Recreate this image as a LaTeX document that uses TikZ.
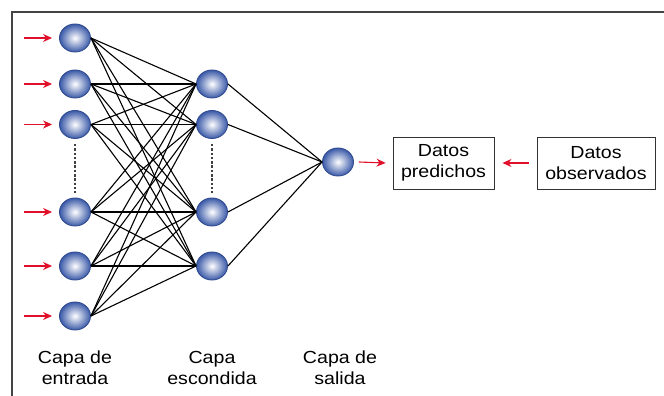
\documentclass[tikz,border=0pt]{standalone}
\usepackage{fontspec}
\setmainfont{Liberation Sans}[FakeStretch=1.12]
\usetikzlibrary{shapes.geometric,arrows.meta}
\definecolor{arrowred}{HTML}{E0102A}
\definecolor{ballblue}{HTML}{3A59A8}
\definecolor{frame}{HTML}{444444}
\begin{document}
\begin{tikzpicture}[x=1pt,y=1pt,
  neuron/.style={ellipse, minimum width=31pt, minimum height=28pt, inner sep=0pt,
    draw=ballblue!85!black, line width=0.9pt, shade, shading=radial,
    inner color=white, outer color=ballblue},
  conn/.style={black, line width=1.1pt},
  redarrow/.style={arrowred, line width=1.1pt, -{Stealth[length=9pt,width=8pt]}},
  databox/.style={draw=black!80, line width=0.9pt, align=center, inner sep=0pt,
    minimum height=52pt},
  lbl/.style={align=center, anchor=base},
  dots/.style={black!75, line width=1.4pt, dash pattern=on 2.5pt off 1.8pt},
  font=\fontsize{17.5}{21.5}\selectfont]
\useasboundingbox (0,0) rectangle (664,396);
\draw[frame, line width=1.6pt] (12,0) -- (12,384) -- (664,384);
% input layer
\node[neuron] (i1) at (75,358) {};
\node[neuron] (i2) at (75,312) {};
\node[neuron] (i3) at (75,271.5) {};
\node[neuron] (i4) at (75,184) {};
\node[neuron] (i5) at (75,130) {};
\node[neuron] (i6) at (75,80) {};
% hidden layer
\node[neuron] (h1) at (212,312) {};
\node[neuron] (h2) at (212,271.5) {};
\node[neuron] (h3) at (212,184) {};
\node[neuron] (h4) at (212,130) {};
% output
\node[neuron] (o) at (338,234) {};
% dotted
\draw[dots] (i3.south) ++(0,-5) -- ([yshift=5pt]i4.north);
\draw[dots] (h2.south) ++(0,-5) -- ([yshift=5pt]h3.north);
% connections
\foreach \i in {i1,i2,i3,i4,i5,i6}{
  \foreach \h in {h1,h2,h3,h4}{
    \draw[conn] (\i.east) -- (\h.west);
  }
}
\foreach \h in {h1,h2,h3,h4}{
  \draw[conn] (\h.east) -- (o.west);
}
% input arrows
\foreach \i in {i1,i2,i3,i4,i5,i6}{
  \coordinate (a\i) at ([xshift=-35pt]\i.west);
  \draw[redarrow] (a\i) -- ([xshift=-7pt]\i.west);
}
% boxes
\node[databox, minimum width=101pt] (pred) at (443.5,233) {Datos\\predichos};
\node[databox, minimum width=118pt] (obs) at (596,233) {Datos\\observados};
\draw[redarrow] ([xshift=5pt]o.east) -- ([xshift=-7pt]pred.west);
\draw[redarrow] ([xshift=-8pt]obs.west) -- ([xshift=8pt]pred.east);
% labels
\node[lbl] (l1) at (75,11) {Capa de\\entrada};
\node[lbl] (l2) at (212,11) {Capa\\escondida};
\node[lbl] (l3) at (340,11) {Capa de\\salida};
\end{tikzpicture}
\end{document}
